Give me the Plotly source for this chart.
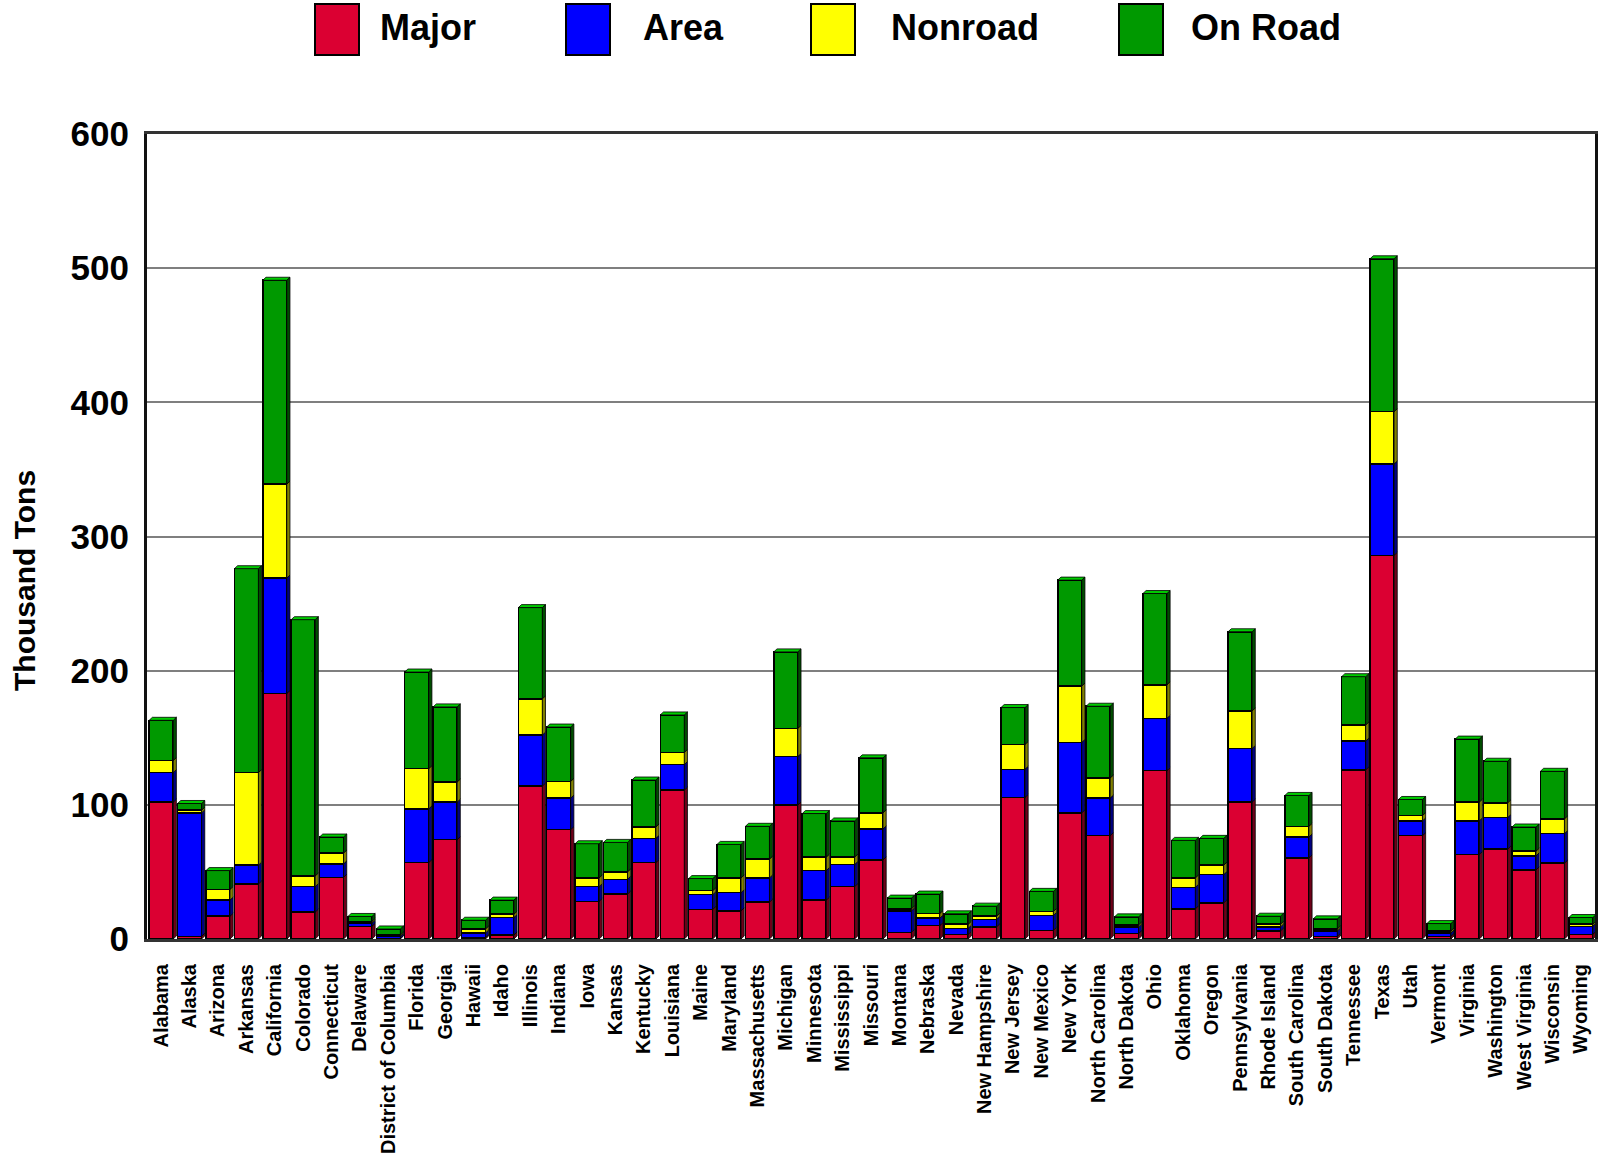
import plotly.graph_objects as go

# Emissions by state and source category (thousand tons)
states = [
    "Alabama", "Alaska", "Arizona", "Arkansas", "California", "Colorado",
    "Connecticut", "Delaware", "District of Columbia", "Florida", "Georgia",
    "Hawaii", "Idaho", "Illinois", "Indiana", "Iowa", "Kansas", "Kentucky",
    "Louisiana", "Maine", "Maryland", "Massachusetts", "Michigan", "Minnesota",
    "Mississippi", "Missouri", "Montana", "Nebraska", "Nevada", "New Hampshire",
    "New Jersey", "New Mexico", "New York", "North Carolina", "North Dakota",
    "Ohio", "Oklahoma", "Oregon", "Pennsylvania", "Rhode Island",
    "South Carolina", "South Dakota", "Tennessee", "Texas", "Utah", "Vermont",
    "Virginia", "Washington", "West Virginia", "Wisconsin", "Wyoming",
]

major = [
    102, 2, 17, 41, 183, 20,
    46, 9.5, 0.5, 57, 74,
    1, 3, 114, 81.5, 28, 33.5, 57,
    111, 22, 21, 27.5, 100, 29,
    39, 59, 5, 10, 3.5, 9,
    105.5, 6.5, 94, 77, 4,
    125.5, 22.5, 27, 102, 6,
    60.5, 2, 126, 286, 77, 2,
    63, 67, 51.5, 56.5, 3.5,
]

area = [
    22, 92, 12, 14, 86, 19,
    10, 2.3, 1.5, 40, 28,
    3.5, 13, 38, 23.5, 11, 11, 18,
    19, 11, 13.5, 18, 36, 22,
    16.5, 23, 16, 5.5, 4.5, 5.5,
    21, 11, 52.5, 28, 5,
    39, 16, 21, 40, 3,
    15.5, 4, 21.5, 68, 11, 2.5,
    25, 23.5, 10.5, 22, 6,
]

nonroad = [
    9, 2, 8, 69, 70, 8,
    8, 1.3, 1, 30, 15,
    3, 2.5, 27, 12.5, 6.5, 5.5, 8.5,
    9, 3, 11, 14, 21, 10,
    5.5, 12, 1.5, 3.5, 3, 2.5,
    18.5, 3, 42, 15, 1.5,
    25, 7, 7, 28, 2,
    8, 1.5, 12, 39, 4, 1.5,
    14, 11, 3.5, 11, 1.5,
]

on_road = [
    30, 5, 14, 152, 152, 191,
    12, 3.7, 4.5, 72, 56,
    6.5, 10.5, 68, 40.5, 25.5, 22, 35,
    28, 9, 25, 24.5, 57, 32.5,
    27, 41, 8, 14.5, 7.75, 7.5,
    27.5, 15, 79, 53.5, 6,
    68, 28, 20, 59, 6,
    23, 7.5, 36, 114, 12, 5.5,
    47, 31, 18, 35.5, 5,
]

# name, values, face colour, shaded side colour
series = [
    ("Major", major, "#DB0032", "#6E0019"),
    ("Area", area, "#0000FF", "#000080"),
    ("Nonroad", nonroad, "#FFFF00", "#808000"),
    ("On Road", on_road, "#009900", "#004D00"),
]
TOP_COLOR = "#00CC00"

y_ticks = [0, 100, 200, 300, 400, 500, 600]

FIG_W, FIG_H = 1606, 1160
M_L, M_R, M_T, M_B = 147, 11, 134, 221
PLOT_W = FIG_W - M_L - M_R
PLOT_H = FIG_H - M_T - M_B
Y_MAX = 600
BARGAP = 0.155

fig = go.Figure()
for name, vals, color, _ in series:
    fig.add_trace(go.Bar(
        x=states, y=vals, name=name,
        marker=dict(color=color, line=dict(color="#000000", width=1.5)),
        showlegend=False,
    ))


def px_to_paper_x(px):
    return (px - M_L) / PLOT_W


def px_to_paper_y(py):
    return (FIG_H - M_B - py) / PLOT_H


shapes = []
annotations = []

# Extruded look: a shaded side on each segment and a lit cap on each stack
depth_x = 3.2 / (PLOT_W / len(states))   # in category units
depth_y = 3.0 / (PLOT_H / Y_MAX)          # in data units
half_w = (1 - BARGAP) / 2
for i in range(len(states)):
    base = 0.0
    for _, vals, _, side in series:
        top = base + vals[i]
        xr = i + half_w
        shapes.append(dict(
            type="path", xref="x", yref="y", layer="above",
            path=(f"M {xr},{base} L {xr + depth_x},{base + depth_y} "
                  f"L {xr + depth_x},{top + depth_y} L {xr},{top} Z"),
            fillcolor=side, line=dict(color="#000000", width=0.8),
        ))
        base = top
    xl = i - half_w
    xr = i + half_w
    shapes.append(dict(
        type="path", xref="x", yref="y", layer="above",
        path=(f"M {xl},{base} L {xl + depth_x},{base + depth_y} "
              f"L {xr + depth_x},{base + depth_y} L {xr},{base} Z"),
        fillcolor=TOP_COLOR, line=dict(color="#000000", width=0.8),
    ))

# Legend row: large colour boxes with bold labels across the top
legend_items = [
    ("Major", "#DB0032", 315, 378),
    ("Area", "#0000FF", 566, 641),
    ("Nonroad", "#FFFF00", 811, 889),
    ("On Road", "#009900", 1119, 1189),
]
for label, color, box_x, text_x in legend_items:
    shapes.append(dict(
        type="rect", xref="paper", yref="paper",
        x0=px_to_paper_x(box_x), x1=px_to_paper_x(box_x + 44),
        y0=px_to_paper_y(55), y1=px_to_paper_y(4),
        fillcolor=color, line=dict(color="#000000", width=2),
    ))
    annotations.append(dict(
        xref="paper", yref="paper",
        x=px_to_paper_x(text_x), y=px_to_paper_y(27),
        xanchor="left", yanchor="middle", showarrow=False,
        text=label,
        font=dict(family="Arial, Liberation Sans, sans-serif", size=36,
                  color="#000000", weight="bold"),
    ))

# Value axis title
annotations.append(dict(
    xref="paper", yref="paper",
    x=px_to_paper_x(24), y=px_to_paper_y(580),
    xanchor="center", yanchor="middle", showarrow=False,
    textangle=-90, text="Thousand Tons",
    font=dict(family="Arial, Liberation Sans, sans-serif", size=30,
              color="#000000", weight="bold"),
))

fig.update_layout(
    width=FIG_W, height=FIG_H,
    margin=dict(l=M_L, r=M_R, t=M_T, b=M_B, autoexpand=False),
    barmode="stack",
    bargap=BARGAP,
    paper_bgcolor="#FFFFFF",
    plot_bgcolor="#FFFFFF",
    font=dict(family="Arial, Liberation Sans, sans-serif", color="#000000"),
    shapes=shapes,
    annotations=annotations,
)

fig.update_xaxes(
    type="category",
    range=[-0.5, len(states) - 0.5],
    tickangle=-90,
    tickfont=dict(size=20, weight="bold"),
    showline=True, linecolor="#333333", linewidth=3,
    mirror=True,
    showgrid=False,
    ticks="", ticklabelstandoff=14,
    automargin=False,
)

fig.update_yaxes(
    range=[0, Y_MAX],
    tickvals=y_ticks,
    ticktext=[str(v) for v in y_ticks],
    tickfont=dict(size=35, weight="bold"),
    showline=True, linecolor="#111111", linewidth=3,
    mirror=True,
    showgrid=True, gridcolor="#7F7F7F", gridwidth=1.5,
    zeroline=False,
    ticks="", ticklabelstandoff=8,
    automargin=False,
)

fig.write_html("out.html")
